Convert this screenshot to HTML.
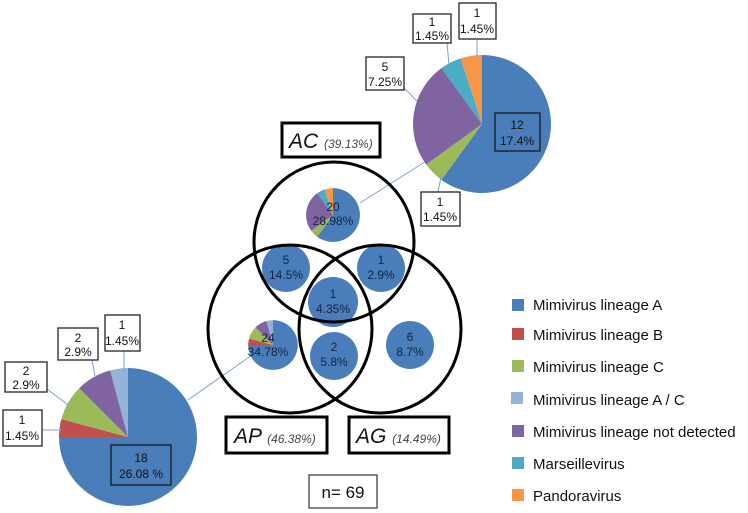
<!DOCTYPE html>
<html><head><meta charset="utf-8"><style>
html,body{margin:0;padding:0;background:#fff}
svg{display:block;font-family:"Liberation Sans",sans-serif}
.b{fill:#4a7ebb}.r{fill:#c0504d}.g{fill:#9bbb59}.lb{fill:#95b3d7}.p{fill:#8064a2}.t{fill:#4bacc6}.o{fill:#f79646}
.lab{fill:#fff;stroke:#222;stroke-width:1.3}
.tx{font-size:12px;fill:#111;text-anchor:middle}
.ct{font-size:12px;fill:#13233f;text-anchor:middle}
.ln{stroke:#7aa0d4;stroke-width:1;fill:none}
.lg{font-size:15px;fill:#111}
</style></head><body>
<svg width="748" height="513" viewBox="0 0 748 513">
<defs>
<g id="pieA">
<path class="b" d="M0,0 L0,-69 A69,69 0 1 1 -40.56,55.82 Z"/>
<path class="g" d="M0,0 L-40.56,55.82 A69,69 0 0 1 -55.82,40.56 Z"/>
<path class="p" d="M0,0 L-55.82,40.56 A69,69 0 0 1 -40.56,-55.82 Z"/>
<path class="t" d="M0,0 L-40.56,-55.82 A69,69 0 0 1 -21.32,-65.62 Z"/>
<path class="o" d="M0,0 L-21.32,-65.62 A69,69 0 0 1 0,-69 Z"/>
</g>
<g id="pieB">
<path class="b" d="M0,0 L0,-69 A69,69 0 1 1 -69,0 Z"/>
<path class="r" d="M0,0 L-69,0 A69,69 0 0 1 -66.65,-17.86 Z"/>
<path class="g" d="M0,0 L-66.65,-17.86 A69,69 0 0 1 -48.79,-48.79 Z"/>
<path class="p" d="M0,0 L-48.79,-48.79 A69,69 0 0 1 -17.86,-66.65 Z"/>
<path class="lb" d="M0,0 L-17.86,-66.65 A69,69 0 0 1 0,-69 Z"/>
</g>
</defs>

<!-- connectors -->
<line class="ln" x1="360" y1="203" x2="428" y2="160"/>
<line class="ln" x1="188" y1="400" x2="252" y2="355"/>

<!-- top right pie -->
<use href="#pieA" transform="translate(482,124)"/>
<line class="ln" x1="477" y1="40" x2="477" y2="57"/>
<line class="ln" x1="447" y1="43" x2="449" y2="65"/>
<line class="ln" x1="404" y1="88" x2="417" y2="101"/>
<line class="ln" x1="438" y1="192" x2="442" y2="172"/>
<rect class="lab" x="459" y="3" width="37" height="36"/>
<text class="tx" x="477" y="17">1</text><text class="tx" x="477" y="33">1.45%</text>
<rect class="lab" x="413" y="14" width="38" height="29"/>
<text class="tx" x="432" y="26">1</text><text class="tx" x="432" y="40">1.45%</text>
<rect class="lab" x="366" y="57" width="38" height="33"/>
<text class="tx" x="385" y="71">5</text><text class="tx" x="385" y="86">7.25%</text>
<rect class="lab" x="421" y="192" width="39" height="34"/>
<text class="tx" x="440" y="206">1</text><text class="tx" x="440" y="221">1.45%</text>
<rect x="495" y="113" width="45" height="38" fill="none" stroke="#111" stroke-width="1.2"/>
<text class="tx" x="517" y="129">12</text><text class="tx" x="517" y="145">17.4%</text>

<!-- bottom left pie -->
<use href="#pieB" transform="translate(128,437)"/>
<line class="ln" x1="124" y1="351" x2="124" y2="372"/>
<line class="ln" x1="92" y1="360" x2="95" y2="376"/>
<line class="ln" x1="47" y1="389" x2="68" y2="405"/>
<line class="ln" x1="42" y1="430" x2="62" y2="430"/>
<rect class="lab" x="105" y="315" width="35" height="36"/>
<text class="tx" x="122" y="329">1</text><text class="tx" x="122" y="345">1.45%</text>
<rect class="lab" x="58" y="328" width="40" height="32"/>
<text class="tx" x="78" y="342">2</text><text class="tx" x="78" y="356">2.9%</text>
<rect class="lab" x="5" y="362" width="42" height="30"/>
<text class="tx" x="26" y="375">2</text><text class="tx" x="26" y="389">2.9%</text>
<rect class="lab" x="3" y="410" width="39" height="36"/>
<text class="tx" x="22" y="424">1</text><text class="tx" x="22" y="440">1.45%</text>
<rect x="111" y="445" width="60" height="40" fill="none" stroke="#111" stroke-width="1.2"/>
<text class="tx" x="141" y="462">18</text><text class="tx" x="141" y="478">26.08 %</text>

<!-- Venn small circles -->
<use href="#pieA" transform="translate(333,215) scale(0.39)"/>
<text class="ct" x="333" y="211">20</text><text class="ct" x="333" y="225">28.98%</text>
<use href="#pieB" transform="translate(273,345) scale(0.36)"/>
<text class="ct" x="268" y="342">24</text><text class="ct" x="268" y="356">34.78%</text>
<circle class="b" cx="286" cy="268" r="24"/>
<text class="ct" x="286" y="264">5</text><text class="ct" x="286" y="279">14.5%</text>
<circle class="b" cx="381" cy="268" r="24"/>
<text class="ct" x="381" y="264">1</text><text class="ct" x="381" y="279">2.9%</text>
<circle class="b" cx="333" cy="302" r="25"/>
<text class="ct" x="333" y="298">1</text><text class="ct" x="333" y="313">4.35%</text>
<circle class="b" cx="334" cy="356" r="24"/>
<text class="ct" x="334" y="351">2</text><text class="ct" x="334" y="366">5.8%</text>
<circle class="b" cx="410" cy="345" r="24"/>
<text class="ct" x="410" y="341">6</text><text class="ct" x="410" y="356">8.7%</text>

<!-- Venn outlines -->
<g fill="none" stroke="#000" stroke-width="3">
<ellipse cx="334" cy="242" rx="80" ry="80"/>
<ellipse cx="290" cy="329" rx="82" ry="84"/>
<ellipse cx="380" cy="329" rx="81" ry="84"/>
</g>

<!-- set labels -->
<g fill="#fff" stroke="#000" stroke-width="3">
<rect x="282" y="123" width="98" height="34"/>
<rect x="226" y="417" width="101" height="36"/>
<rect x="349" y="417" width="100" height="36"/>
</g>
<text x="289" y="148" font-size="21" font-style="italic" fill="#111">AC <tspan font-size="12" fill="#444">(39.13%)</tspan></text>
<text x="234" y="443" font-size="21" font-style="italic" fill="#111">AP <tspan font-size="12" fill="#444">(46.38%)</tspan></text>
<text x="356" y="443" font-size="21" font-style="italic" fill="#111">AG <tspan font-size="12" fill="#444">(14.49%)</tspan></text>
<rect x="309" y="475" width="68" height="33" fill="#fff" stroke="#333" stroke-width="1.2"/>
<text x="343" y="498" font-size="17" text-anchor="middle" fill="#111">n= 69</text>

<!-- legend -->
<rect class="b" x="512" y="299" width="12" height="12"/>
<text class="lg" x="533" y="310">Mimivirus lineage A</text>
<rect class="r" x="512" y="328" width="12" height="12"/>
<text class="lg" x="533" y="340">Mimivirus lineage B</text>
<rect class="g" x="512" y="360" width="12" height="12"/>
<text class="lg" x="533" y="372">Mimivirus lineage C</text>
<rect class="lb" x="511" y="392" width="12" height="12"/>
<text class="lg" x="533" y="405">Mimivirus lineage A / C</text>
<rect class="p" x="512" y="425" width="12" height="12"/>
<text class="lg" x="533" y="437">Mimivirus lineage not detected</text>
<rect class="t" x="512" y="457" width="12" height="12"/>
<text class="lg" x="533" y="469">Marseillevirus</text>
<rect class="o" x="512" y="489" width="12" height="12"/>
<text class="lg" x="533" y="501">Pandoravirus</text>
</svg>
</body></html>
